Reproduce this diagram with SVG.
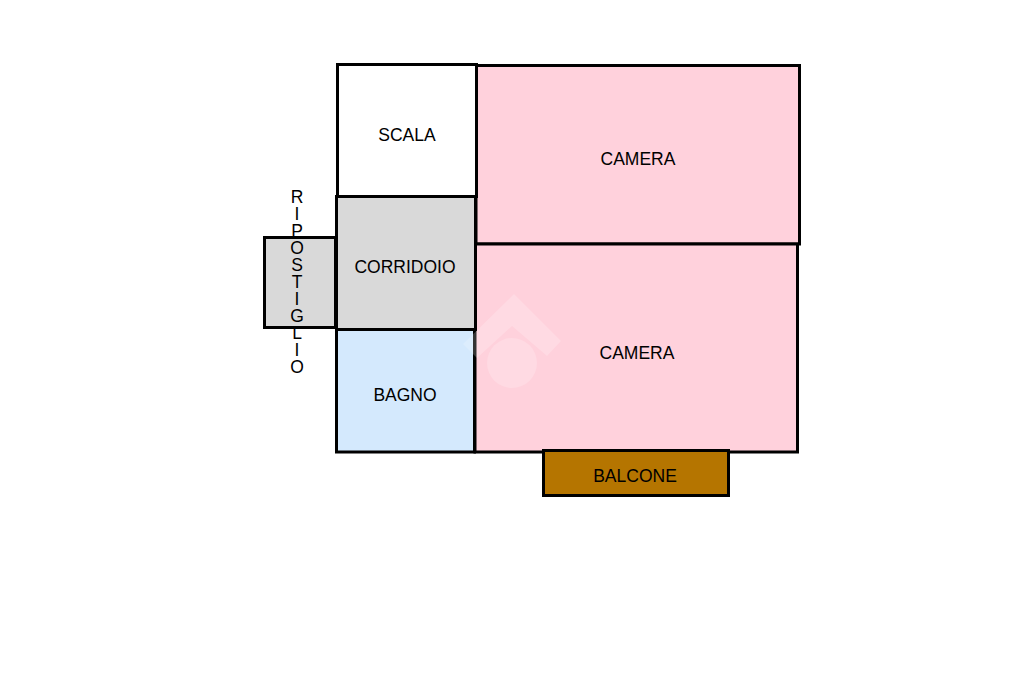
<svg xmlns="http://www.w3.org/2000/svg" width="1024" height="682" viewBox="0 0 1024 682">
<style>
.r{stroke:#000;stroke-width:3}
text{font-family:"Liberation Sans",Arial,sans-serif;font-size:17.500px;fill:#000;text-anchor:middle}
</style>
<rect width="1024" height="682" fill="#fff"/>
<g id="camera-1"><rect class="r" x="476" y="65.500" width="323.500" height="178.500" fill="#ffd1dc"/><text x="638" y="164.500">CAMERA</text></g>
<g id="camera-2"><rect class="r" x="475" y="244" width="322.500" height="208" fill="#ffd1dc"/><text x="637" y="358.500">CAMERA</text></g>
<g id="scala"><rect class="r" x="337.500" y="64.500" width="139" height="132" fill="#fff"/><text x="407" y="140.500">SCALA</text></g>
<g id="corridoio"><rect class="r" x="336.500" y="196.500" width="139" height="133" fill="#d9d9d9"/><text x="405" y="272.500">CORRIDOIO</text></g>
<g id="bagno"><rect class="r" x="336.500" y="329.500" width="138" height="122.500" fill="#d4e9fd"/><text x="405" y="400.500">BAGNO</text></g>
<g id="ripostiglio"><rect class="r" x="264.500" y="237.500" width="71" height="90" fill="#d9d9d9"/>
<text><tspan x="297" y="203">R</tspan><tspan x="297" y="220">I</tspan><tspan x="297" y="237">P</tspan><tspan x="297" y="254">O</tspan><tspan x="297" y="271">S</tspan><tspan x="297" y="288">T</tspan><tspan x="297" y="305">I</tspan><tspan x="297" y="322">G</tspan><tspan x="297" y="339">L</tspan><tspan x="297" y="356">I</tspan><tspan x="297" y="373">O</tspan></text></g>
<g id="balcone"><rect class="r" x="543.500" y="450.500" width="185" height="45" fill="#b57500"/><text x="635" y="482">BALCONE</text></g>
<g id="watermark" fill="#fff" fill-opacity=".2"><path d="M514 294L561 341L547 356L512 326L477 358L463 344Z"/><circle cx="512" cy="363" r="25"/></g>
</svg>
